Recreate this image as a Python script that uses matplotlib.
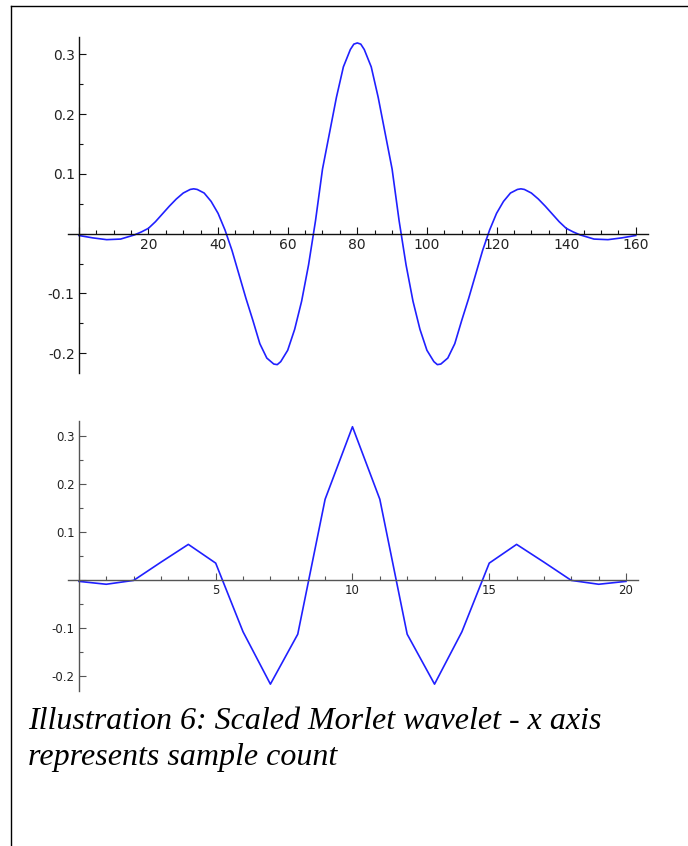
import matplotlib
matplotlib.use("Agg")
from matplotlib import pyplot as plt
from matplotlib.lines import Line2D
from matplotlib.ticker import MultipleLocator, FuncFormatter

# continuous wavelet
wave_x = [0, 4, 8, 12, 16, 18, 20, 22, 24, 26, 28, 30, 32, 33, 34, 36, 38, 40,
          42, 44, 46, 48, 50, 52, 54, 56, 57, 58, 60, 62, 64, 66, 68, 70, 72,
          74, 76, 78, 79, 80, 81, 82, 84, 86, 88, 90, 92, 94, 96, 98, 100, 102,
          103, 104, 106, 108, 110, 112, 114, 116, 118, 120, 122, 124, 126, 127,
          128, 130, 132, 134, 136, 138, 140, 142, 144, 148, 152, 156, 160]
wave_y = [-0.003, -0.007, -0.010, -0.009, -0.002, 0.003, 0.009, 0.020, 0.033,
          0.046, 0.058, 0.068, 0.074, 0.075, 0.074, 0.068, 0.054, 0.034,
          0.006, -0.028, -0.068, -0.108, -0.145, -0.184, -0.208, -0.218,
          -0.219, -0.214, -0.195, -0.160, -0.113, -0.052, 0.022, 0.108, 0.168,
          0.228, 0.279, 0.308, 0.317, 0.319, 0.317, 0.308, 0.279, 0.228, 0.168,
          0.108, 0.022, -0.052, -0.113, -0.160, -0.195, -0.214, -0.219, -0.218,
          -0.208, -0.184, -0.145, -0.108, -0.068, -0.028, 0.006, 0.034, 0.054,
          0.068, 0.074, 0.075, 0.074, 0.068, 0.058, 0.046, 0.033, 0.020, 0.009,
          0.003, -0.002, -0.009, -0.010, -0.007, -0.003]

# sampled wavelet (lower plot)
samples = list(range(21))
sample_vals = [-0.003, -0.009, -0.001, 0.037, 0.074, 0.035, -0.108, -0.217,
               -0.113, 0.168, 0.319, 0.168, -0.113, -0.217, -0.108, 0.035,
               0.074, 0.037, -0.001, -0.009, -0.003]

caption = ["Illustration 6: Scaled Morlet wavelet - x axis",
           "represents sample count"]


def sage_style(ax, xmajor, xminor, color, fs):
    ax.spines['left'].set_position(('data', 0))
    ax.spines['bottom'].set_position(('data', 0))
    ax.spines['right'].set_visible(False)
    ax.spines['top'].set_visible(False)
    for s in ['left', 'bottom']:
        ax.spines[s].set_color(color)
        ax.spines[s].set_linewidth(1.0)
    ax.xaxis.set_major_locator(MultipleLocator(xmajor))
    ax.xaxis.set_minor_locator(MultipleLocator(xminor))
    ax.yaxis.set_major_locator(MultipleLocator(0.1))
    ax.yaxis.set_minor_locator(MultipleLocator(0.05))
    ax.xaxis.set_major_formatter(FuncFormatter(
        lambda v, p: "" if abs(v) < 1e-9 else "%g" % v))
    ax.yaxis.set_major_formatter(FuncFormatter(
        lambda v, p: "" if abs(v) < 1e-9 else ("%.1f" % v)))
    ax.tick_params(which='both', direction='in', color=color, width=0.8,
                   labelsize=fs, labelcolor='#222222', pad=3)
    ax.tick_params(which='major', length=5)
    ax.tick_params(which='minor', length=3)


fig = plt.figure(figsize=(6.88, 8.46), dpi=100)

ax1 = fig.add_axes([0.0984, 0.5591, 0.8439, 0.3972])
ax1.plot(wave_x, wave_y, color='#2020ff', lw=1.2)
ax1.set_xlim(-3.2, 163.6)
ax1.set_ylim(-0.233, 0.329)
sage_style(ax1, 20, 5, '#111111', 10)

ax2 = fig.add_axes([0.0984, 0.1836, 0.8294, 0.3188])
ax2.plot(samples, sample_vals, color='#2020ff', lw=1.2)
ax2.set_xlim(-0.41, 20.45)
ax2.set_ylim(-0.2306, 0.331)
sage_style(ax2, 5, 1, '#555555', 8.5)

# page frame
fig.add_artist(Line2D([10.5 / 688, 1.0], [1 - 6.5 / 846, 1 - 6.5 / 846],
                      color='black', lw=1.0))
fig.add_artist(Line2D([10.5 / 688, 10.5 / 688], [0, 1 - 6.5 / 846],
                      color='black', lw=1.0))

for i, line in enumerate(caption):
    fig.text(28 / 688, 1 - (729 + 36 * i) / 846, line, family='Liberation Serif',
             style='italic', fontsize=23, ha='left', va='baseline')

fig.savefig('out.png', dpi=100)
